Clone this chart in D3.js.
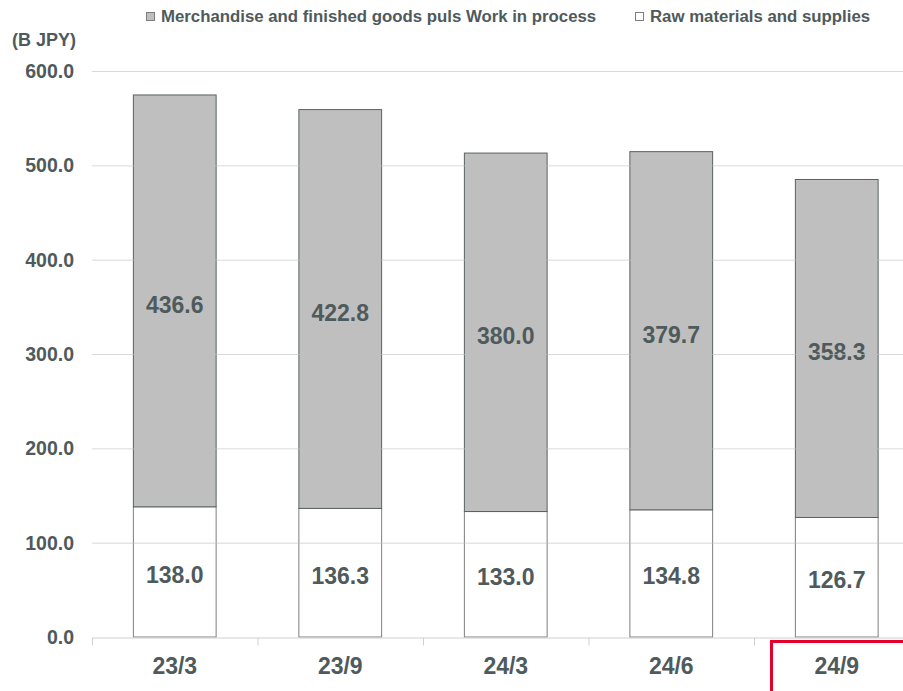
<!DOCTYPE html>
<html><head><meta charset="utf-8">
<script src="https://cdn.jsdelivr.net/npm/d3@7"></script>
<style>body{margin:0;background:#fff}svg{display:block;font-family:"Liberation Sans",Arial,sans-serif}</style>
</head><body><svg id="c" width="903" height="691"></svg>
<script>
const categories = ["23/3","23/9","24/3","24/6","24/9"];
const rawMaterials = [138.0,136.3,133.0,134.8,126.7];
const merchandise = [436.6,422.8,380.0,379.7,358.3];
const yTicks = [0,100,200,300,400,500,600];
const seriesNames = ["Merchandise and finished goods puls Work in process","Raw materials and supplies"];

const svg = d3.select("#c");
const textCol = "#4f5a5c";
const x = d3.scaleBand().domain(categories).range([92, 92+165.5*5]).paddingInner(0).paddingOuter(0);
const y = d3.scaleLinear().domain([0,600]).range([637,71]);
const bw = x.bandwidth()*0.5;

const bars = svg.append("g");
categories.forEach((c,i)=>{
  const cx = x(c)+x.bandwidth()/2;
  bars.append("rect").attr("x",cx-bw/2).attr("y",y(rawMaterials[i])).attr("width",bw)
    .attr("height",y(0)-y(rawMaterials[i])).attr("fill","#fff").attr("stroke","#7f7f7f").attr("stroke-width",1);
  bars.append("rect").attr("x",cx-bw/2).attr("y",y(rawMaterials[i]+merchandise[i])).attr("width",bw)
    .attr("height",y(rawMaterials[i])-y(rawMaterials[i]+merchandise[i])).attr("fill","#bfbfbf").attr("stroke","#5a6163").attr("stroke-width",1);
  bars.append("text").attr("x",cx).attr("y",(y(0)+y(rawMaterials[i]))/2+11).attr("text-anchor","middle")
    .attr("font-size",23).attr("font-weight","bold").attr("fill",textCol).text(rawMaterials[i].toFixed(1));
  bars.append("text").attr("x",cx).attr("y",(y(rawMaterials[i])+y(rawMaterials[i]+merchandise[i]))/2+12).attr("text-anchor","middle")
    .attr("font-size",23).attr("font-weight","bold").attr("fill",textCol).text(merchandise[i].toFixed(1));
});
yTicks.filter(t=>t>0).forEach(t=>{
  svg.append("line").attr("x1",92).attr("x2",903).attr("y1",y(t)+0.5).attr("y2",y(t)+0.5)
    .attr("stroke","#bfbfbf").attr("stroke-opacity",0.6);
});
yTicks.forEach(t=>{
  svg.append("text").attr("x",74).attr("y",y(t)+7).attr("text-anchor","end").attr("font-size",19.5)
    .attr("font-weight","bold").attr("fill",textCol).text(t.toFixed(1));
});
svg.append("text").attr("x",12).attr("y",46).attr("font-size",18).attr("font-weight","bold").attr("fill",textCol).text("(B JPY)");
const xAxis = d3.axisBottom(x).tickSize(0).tickPadding(0);
const gx = svg.append("g").attr("transform",`translate(0,${y(0)+0.5})`).call(xAxis);
gx.select(".domain").attr("stroke","#d0d0d0");
gx.selectAll("text").attr("dy",null).attr("y",36.5).attr("font-size",23).attr("font-weight","bold").attr("fill",textCol).attr("font-family","Liberation Sans, Arial, sans-serif");
categories.forEach(c=>{
  gx.append("line").attr("x1",x(c)+0.5).attr("x2",x(c)+0.5).attr("y1",0).attr("y2",8).attr("stroke","#d0d0d0");
});
svg.append("path").attr("d",`M${x("24/9")+17.5},691 V641.5 H903`).attr("fill","none").attr("stroke","#e4002b").attr("stroke-width",3);
const leg = [{x:146,fill:"#bfbfbf",stroke:"#7f7f7f",name:seriesNames[0]},{x:635,fill:"#fff",stroke:"#7f7f7f",name:seriesNames[1]}];
leg.forEach(l=>{
  svg.append("rect").attr("x",l.x+0.5).attr("y",12.5).attr("width",8).attr("height",8).attr("fill",l.fill).attr("stroke",l.stroke);
  svg.append("text").attr("x",l.x+15).attr("y",22).attr("font-size",16.8).attr("font-weight","bold").attr("fill",textCol).text(l.name);
});
</script></body></html>
